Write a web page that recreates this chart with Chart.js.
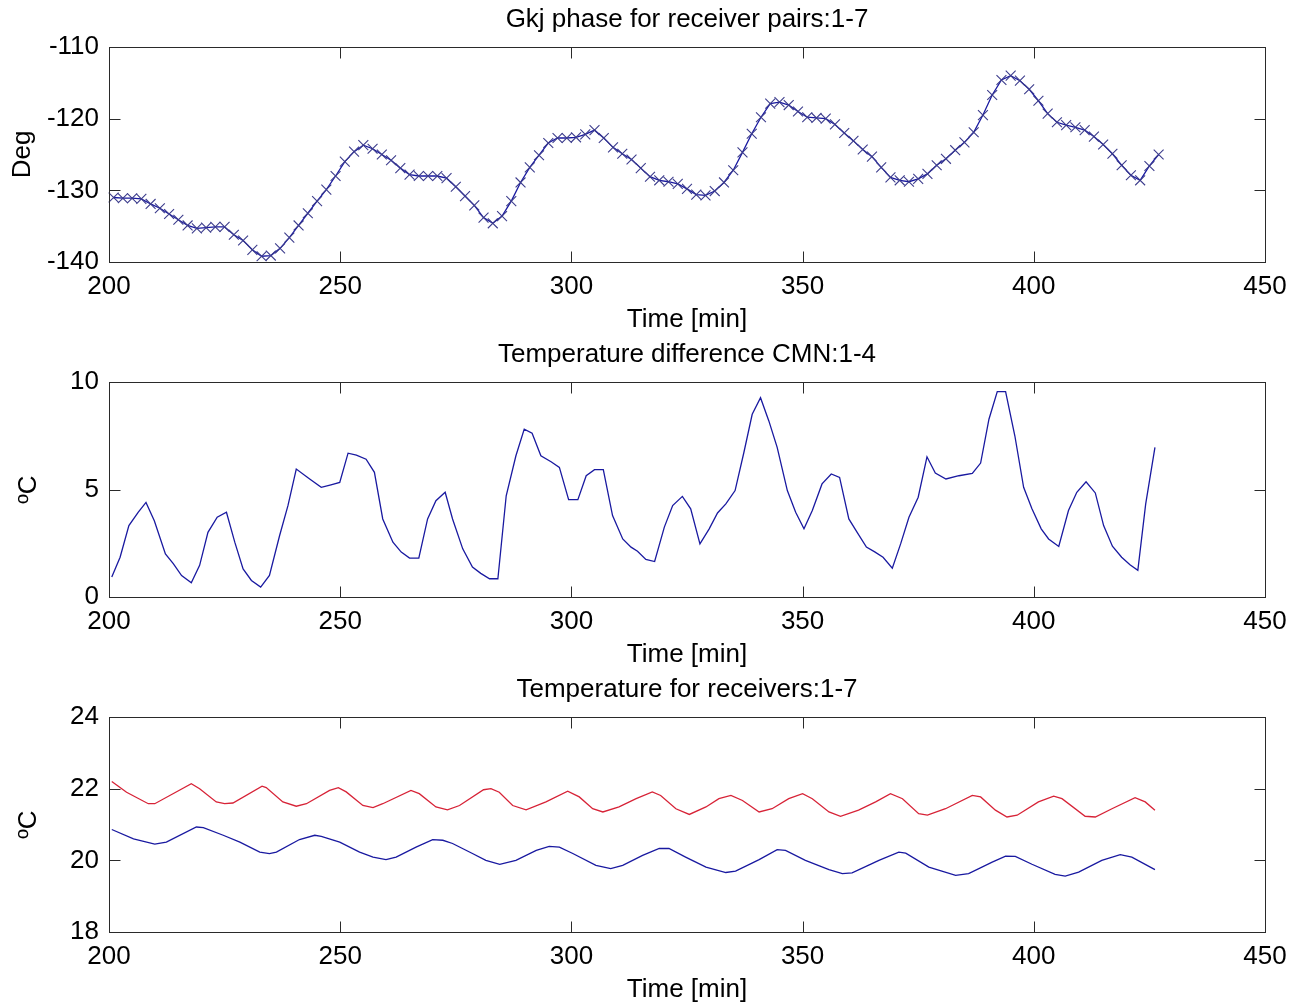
<!DOCTYPE html>
<html>
<head>
<meta charset="utf-8">
<script src="https://cdn.jsdelivr.net/npm/chart.js@4.4.0/dist/chart.umd.min.js"></script>
<style>
  html, body { margin: 0; padding: 0; background: #fff; overflow: hidden; }
  .panel { position: absolute; left: 0; width: 1291px; height: 335px; }
</style>
</head>
<body>
<div class="panel" style="top:0"><canvas id="phaseChart" width="1291" height="335"></canvas></div>
<div class="panel" style="top:335px"><canvas id="diffChart" width="1291" height="335"></canvas></div>
<div class="panel" style="top:670px"><canvas id="tempChart" width="1291" height="335"></canvas></div>
<script>
// ---- data ----
const phaseTime = [
  201,203,205,207,209,211,213,215,217,219,
  221,223,225,227,229,231,233,235,237,239,
  241,243,245,247,249,251,253,255,257,259,
  261,263,265,267,269,271,273,275,277,279,
  281,283,285,287,289,291,293,295,297,299,
  301,303,305,307,309,311,313,315,317,319,
  321,323,325,327,329,331,333,335,337,339,
  341,343,345,347,349,351,353,355,357,359,
  361,363,365,367,369,371,373,375,377,379,
  381,383,385,387,389,391,393,395,397,399,
  401,403,405,407,409,411,413,415,417,419,
  421,423,425,427
];
const phaseDeg = [
  -131.0,-131.1,-131.1,-131.2,-131.9,-132.5,-133.3,-134.1,-134.9,-135.3,
  -135.2,-135.1,-135.1,-136.2,-137.0,-138.3,-139.2,-139.1,-138.1,-136.6,
  -134.9,-133.2,-131.5,-129.9,-128.0,-126.0,-124.6,-123.7,-124.2,-125.0,
  -125.8,-126.9,-127.8,-128.0,-128.0,-128.0,-128.3,-129.5,-130.8,-132.1,
  -133.8,-134.6,-133.6,-131.5,-128.9,-126.8,-125.1,-123.4,-122.7,-122.7,
  -122.6,-122.2,-121.6,-122.7,-124.0,-124.9,-125.7,-126.9,-128.1,-128.6,
  -128.8,-129.1,-129.8,-130.6,-130.7,-130.1,-128.9,-127.2,-124.7,-122.1,
  -119.8,-117.9,-117.7,-118.1,-119.0,-119.8,-119.9,-120.0,-120.8,-122.0,
  -123.1,-124.3,-125.3,-126.8,-128.2,-128.6,-128.8,-128.4,-127.7,-126.5,
  -125.6,-124.4,-123.3,-121.9,-119.5,-116.7,-114.6,-114.0,-114.7,-115.9,
  -117.5,-119.3,-120.5,-120.9,-121.2,-121.6,-122.5,-123.6,-124.9,-126.5,
  -127.9,-128.6,-126.6,-125.0
];

const diffTime = [
  200.6,202.4,204.3,206.3,208.0,209.8,212.2,213.9,215.7,217.8,219.6,221.4,223.4,225.4,227.2,
  229.0,230.8,232.8,234.7,236.9,238.7,240.5,243.4,245.9,248.0,249.9,251.7,253.5,255.6,257.4,
  259.2,261.4,263.2,265.0,267.0,268.9,270.7,272.7,274.3,276.5,278.6,280.4,282.3,284.1,285.9,
  288.0,289.8,291.5,293.4,295.6,297.4,299.4,301.4,303.2,305.0,306.9,308.9,311.1,312.9,314.3,
  316.1,318.0,320.1,321.9,324.0,325.8,327.8,329.8,331.6,333.4,335.4,337.3,339.1,340.9,342.7,
  344.5,346.7,348.5,350.3,352.1,354.2,356.2,358.0,360.0,361.8,363.8,365.6,367.4,369.4,371.2,
  373.0,375.0,376.9,378.7,381.0,383.8,386.7,388.5,390.3,392.1,393.9,395.9,397.8,399.6,401.6,
  403.2,405.4,407.5,409.3,411.3,413.3,415.1,417.0,419.0,420.8,422.5,424.2,426.2
];
const diffVals = [
  0.93,1.85,3.32,3.94,4.40,3.55,2.00,1.55,1.00,0.66,1.47,3.01,3.71,3.94,2.55,
  1.31,0.77,0.46,1.00,2.86,4.25,5.95,5.49,5.10,5.22,5.33,6.69,6.60,6.41,5.80,
  3.63,2.55,2.09,1.81,1.81,3.63,4.48,4.87,3.63,2.24,1.39,1.10,0.85,0.85,4.71,
  6.57,7.81,7.62,6.57,6.29,6.03,4.53,4.53,5.64,5.92,5.92,3.79,2.70,2.32,2.13,
  1.75,1.65,3.25,4.25,4.68,4.10,2.47,3.17,3.91,4.33,4.95,6.72,8.50,9.27,8.19,
  6.96,4.95,3.94,3.17,4.02,5.26,5.72,5.56,3.63,3.01,2.32,2.10,1.85,1.34,2.47,
  3.71,4.64,6.52,5.77,5.49,5.64,5.75,6.23,8.27,9.55,9.55,7.50,5.10,4.10,3.17,
  2.70,2.35,4.02,4.87,5.36,4.84,3.32,2.36,1.85,1.50,1.24,4.33,6.96
];

const redTime = [
  200.6,203.8,208.5,209.9,217.8,219.6,223.2,225.0,226.8,233.1,234.0,237.6,240.5,242.7,247.7,
  249.6,251.3,254.9,257.1,259.2,265.3,267.1,270.7,273.2,275.8,281.0,282.6,284.4,287.3,290.2,
  294.5,299.2,301.7,304.6,306.8,310.3,314.0,317.5,319.3,322.6,325.5,329.1,331.9,334.5,337.0,
  340.6,343.4,347.0,350.0,352.1,355.7,358.2,362.1,365.8,369.0,371.6,375.1,377.0,380.9,386.7,
  388.5,391.7,394.2,396.4,401.0,404.3,406.1,411.1,413.3,416.9,421.9,424.1,426.2
];
const redVals = [
  22.20,21.90,21.58,21.58,22.14,22.00,21.63,21.58,21.60,22.07,22.03,21.63,21.51,21.58,21.95,
  22.03,21.91,21.53,21.47,21.58,21.95,21.86,21.49,21.41,21.53,21.97,22.00,21.90,21.53,21.41,
  21.63,21.93,21.77,21.44,21.35,21.49,21.72,21.91,21.81,21.44,21.28,21.49,21.72,21.81,21.67,
  21.35,21.44,21.72,21.86,21.72,21.35,21.23,21.40,21.63,21.86,21.72,21.30,21.26,21.44,21.81,
  21.77,21.40,21.21,21.26,21.63,21.79,21.72,21.23,21.21,21.44,21.75,21.63,21.40
];

const blueTime = [
  200.6,205.3,209.9,212.4,218.9,220.4,224.7,228.3,232.6,234.7,236.2,241.2,244.5,245.9,249.9,
  254.2,257.1,259.9,262.1,266.4,270.0,272.2,274.3,278.6,281.5,284.5,288.0,292.4,295.2,297.4,
  300.3,305.3,308.5,311.1,315.4,319.0,321.1,324.7,329.1,333.4,335.5,340.6,344.5,346.3,350.6,
  355.7,358.6,360.7,365.0,366.5,370.8,372.3,377.3,383.1,385.9,391.0,393.9,396.0,399.6,404.6,
  406.8,409.7,414.7,418.7,421.2,426.2
];
const blueVals = [
  20.86,20.60,20.45,20.51,20.93,20.91,20.70,20.51,20.23,20.19,20.23,20.58,20.70,20.67,20.51,
  20.23,20.09,20.02,20.09,20.37,20.58,20.56,20.47,20.19,20.00,19.89,20.00,20.28,20.39,20.37,
  20.19,19.86,19.77,19.86,20.14,20.33,20.33,20.09,19.81,19.66,19.70,20.02,20.30,20.28,20.00,
  19.74,19.63,19.65,19.91,20.00,20.23,20.20,19.81,19.58,19.63,19.95,20.12,20.11,19.89,19.61,
  19.56,19.67,20.00,20.16,20.09,19.74
];

const xTicks = [200, 250, 300, 350, 400, 450];

// ---- helpers ----
const FONT = 'Liberation Sans, Arial, Helvetica, sans-serif';
const FSIZE = 26;
const BLUE = 'rgb(25,25,160)';
const RED = 'rgb(215,35,55)';

function points(xs, ys) {
  return xs.map((x, i) => ({ x: x, y: ys[i] }));
}

// MATLAB style box with inward ticks on all four sides
const boxPlugin = {
  id: 'box',
  afterDraw(chart) {
    const ctx = chart.ctx;
    const a = chart.chartArea;
    const xs = chart.scales.x;
    const ys = chart.scales.y;
    const L = Math.round(a.left) + 0.5, R = Math.round(a.right) + 0.5;
    const T = Math.round(a.top) + 0.5, B = Math.round(a.bottom) + 0.5;
    const len = 11;
    ctx.save();
    ctx.strokeStyle = '#2a2a2a';
    ctx.lineWidth = 1;
    ctx.strokeRect(L, T, R - L, B - T);
    ctx.beginPath();
    xs.ticks.forEach(t => {
      const px = Math.round(xs.getPixelForValue(t.value)) + 0.5;
      ctx.moveTo(px, B); ctx.lineTo(px, B - len);
      ctx.moveTo(px, T); ctx.lineTo(px, T + len);
    });
    ys.ticks.forEach(t => {
      const py = Math.round(ys.getPixelForValue(t.value)) + 0.5;
      ctx.moveTo(L, py); ctx.lineTo(L + len, py);
      ctx.moveTo(R, py); ctx.lineTo(R - len, py);
    });
    ctx.stroke();
    ctx.restore();
  }
};

function makeChart(id, title, yLabel, yLabelPad, yMin, yMax, yStep, datasets) {
  const font = { family: FONT, size: FSIZE };
  return new Chart(document.getElementById(id), {
    type: 'line',
    data: { datasets: datasets },
    plugins: [boxPlugin],
    options: {
      responsive: false,
      animation: false,
      layout: { padding: { left: 0, right: 26, top: 0, bottom: 0 } },
      plugins: {
        legend: { display: false },
        tooltip: { enabled: false },
        title: { display: false }
      },
      scales: {
        // top axis only carries the subplot title so it centres over the axes
        top: {
          type: 'linear',
          position: 'top',
          min: 200,
          max: 450,
          afterFit(scale) { scale.height = 47; },
          grid: { display: false },
          border: { display: false },
          ticks: { display: false },
          title: { display: true, text: title, color: '#000', font: font, padding: { top: 4, bottom: 0 } }
        },
        x: {
          type: 'linear',
          min: 200,
          max: 450,
          afterFit(scale) { scale.height = 73; },
          afterBuildTicks(scale) { scale.ticks = xTicks.map(v => ({ value: v })); },
          grid: { display: false },
          border: { display: false },
          ticks: { color: '#000', font: font, padding: 1, maxRotation: 0, autoSkip: false },
          title: { display: true, text: 'Time [min]', color: '#000', font: font, padding: { top: 0, bottom: 0 } }
        },
        y: {
          min: yMin,
          max: yMax,
          afterFit(scale) { scale.width = 109; },
          grid: { display: false },
          border: { display: false },
          ticks: { stepSize: yStep, color: '#000', font: font, padding: 2 },
          title: { display: true, text: yLabel, color: '#000', font: font, padding: { top: yLabelPad, bottom: 0 } }
        }
      }
    }
  });
}

makeChart('phaseChart', 'Gkj phase for receiver pairs:1-7', 'Deg', 7, -140, -110, 10, [{
  data: points(phaseTime, phaseDeg),
  borderColor: BLUE,
  borderWidth: 1.3,
  pointStyle: 'crossRot',
  pointRadius: 7,
  pointBorderWidth: 1.1,
  pointBorderColor: 'rgb(60,60,140)',
  xAxisID: 'x',
  clip: false
}]);

makeChart('diffChart', 'Temperature difference CMN:1-4', 'ºC', 13, 0, 10, 5, [{
  data: points(diffTime, diffVals),
  borderColor: BLUE,
  borderWidth: 1.3,
  pointRadius: 0,
  xAxisID: 'x'
}]);

makeChart('tempChart', 'Temperature for receivers:1-7', 'ºC', 13, 18, 24, 2, [
  { data: points(blueTime, blueVals), borderColor: BLUE, borderWidth: 1.3, pointRadius: 0, xAxisID: 'x' },
  { data: points(redTime, redVals), borderColor: RED, borderWidth: 1.3, pointRadius: 0, xAxisID: 'x' }
]);
</script>
</body>
</html>
